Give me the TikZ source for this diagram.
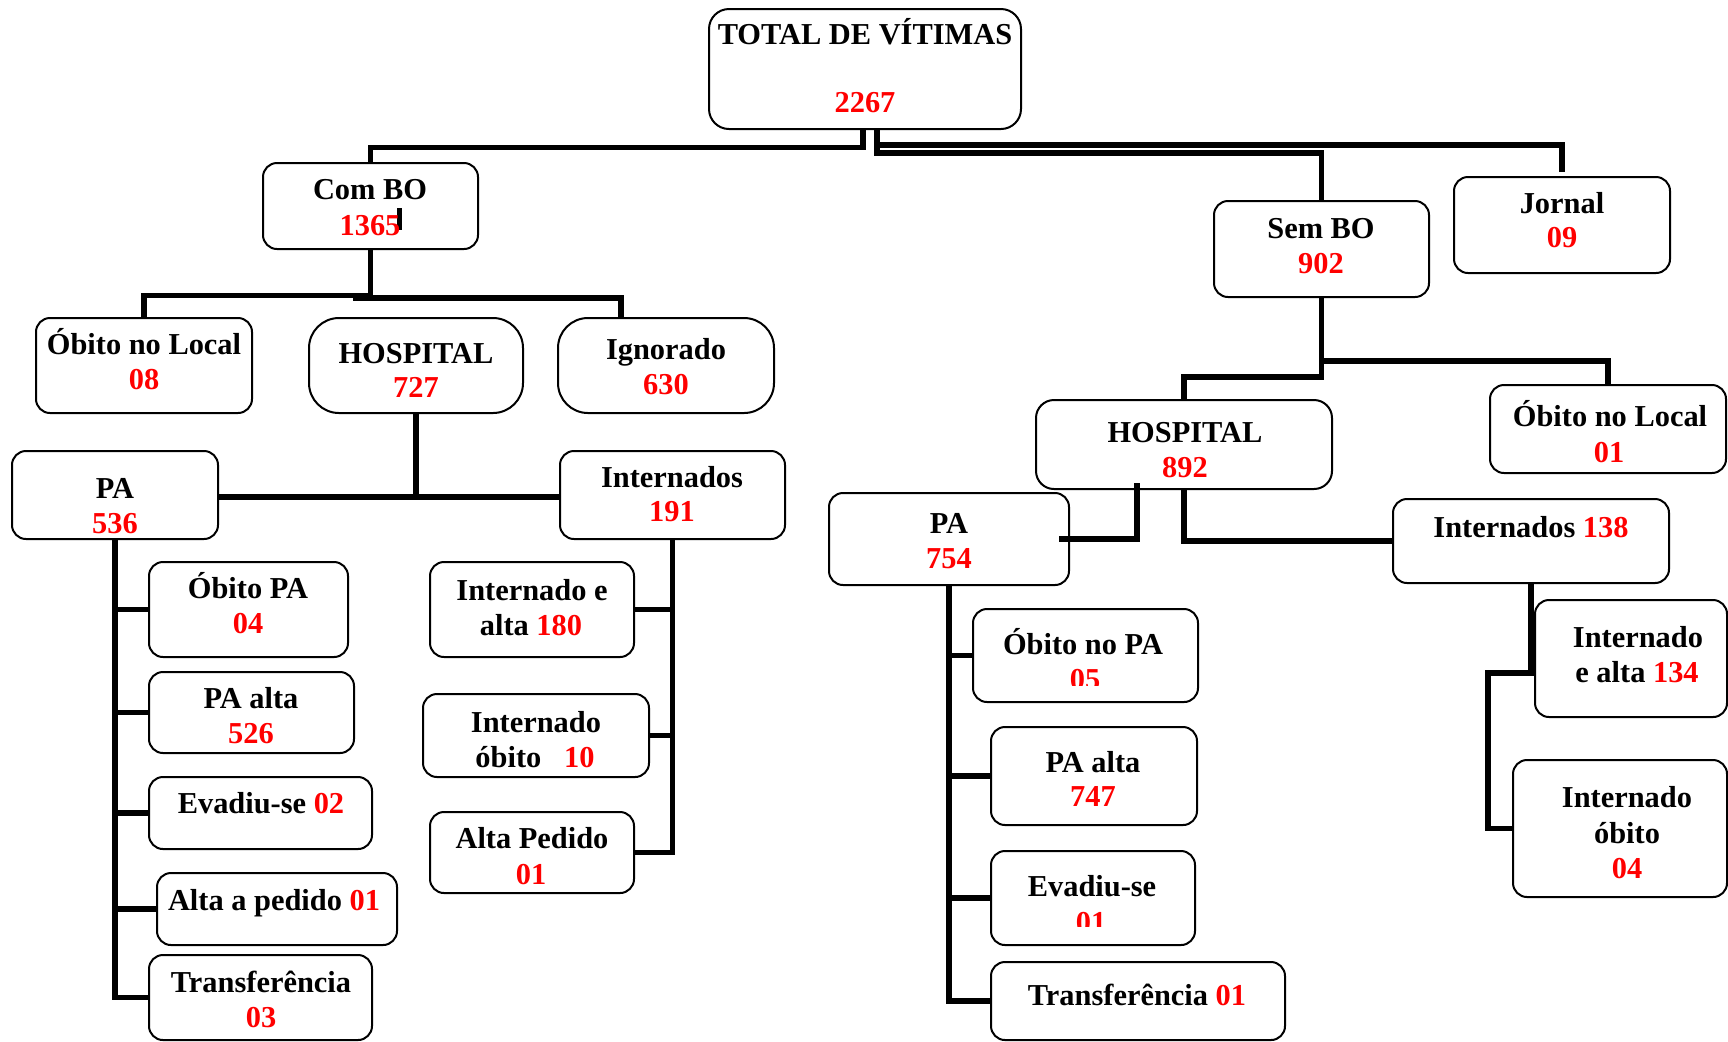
\documentclass[tikz,border=0pt]{standalone}
\usepackage{fontspec}
\setmainfont{Liberation Serif}
\usetikzlibrary{fit}
\begin{document}
\begin{tikzpicture}[x=0.5pt,y=-0.5pt,
  bx/.style={draw, line width=1pt, inner sep=0pt, rounded corners=7pt},
  bigr/.style={rounded corners=15pt},
  conn/.style={line width=2.8pt},
  lbl/.style={anchor=base, inner sep=0pt, font=\fontsize{15.2pt}{17.75pt}\selectfont\bfseries},
  num/.style={lbl, text=red}]
\useasboundingbox (0,0) rectangle (1728,1041);

% ---------- boxes ----------
\node[bx, rounded corners=10pt, fit={(709,9) (1021,129)}] (tot) {};
\node[bx, fit={(263,163) (478,249)}] (combo) {};
\node[bx, fit={(1214,201) (1429,297)}] (sembo) {};
\node[bx, fit={(1454,177) (1670,273)}] (jornal) {};
\node[bx, fit={(36,318) (252,413)}] (obl1) {};
\node[bx, bigr, fit={(309,318) (523,413)}] (hosp1) {};
\node[bx, bigr, fit={(558,318) (774,413)}] (ign) {};
\node[bx, fit={(12,451) (218,539)}] (pa1) {};
\node[bx, fit={(560,451) (785,539)}] (int1) {};
\node[bx, fit={(149,562) (348,657)}] (obpa1) {};
\node[bx, fit={(149,672) (354,753)}] (paalta1) {};
\node[bx, fit={(149,777) (372,849)}] (evad1) {};
\node[bx, fit={(157,873) (397,945)}] (altap1) {};
\node[bx, fit={(149,955) (372,1040)}] (transf1) {};
\node[bx, fit={(430,562) (634,657)}] (intalta1) {};
\node[bx, fit={(423,694) (649,777)}] (intob1) {};
\node[bx, fit={(430,812) (634,893)}] (altaped1) {};
\node[bx, rounded corners=9pt, fit={(1036,400) (1332,489)}] (hosp2) {};
\node[bx, fit={(1490,385) (1726,473)}] (obl2) {};
\node[bx, fit={(829,493) (1069,585)}] (pa2) {};
\node[bx, fit={(1393,499) (1669,583)}] (int2) {};
\node[bx, fit={(973,609) (1198,702)}] (obpa2) {};
\node[bx, fit={(991,727) (1197,825)}] (paalta2) {};
\node[bx, fit={(991,851) (1195,945)}] (evad2) {};
\node[bx, fit={(991,962) (1285,1040)}] (transf2) {};
\node[bx, fit={(1535,600) (1727,717)}] (intalta2) {};
\node[bx, fit={(1513,760) (1727,897)}] (intob2) {};

% ---------- connectors ----------
\draw[conn] ([xshift=-1pt]tot.south) -- ++(0,17.5) -| (combo.north);
\draw[conn] ([xshift=6pt]tot.south) -- ++(0,15) -| ([yshift=2pt]jornal.north);
\draw[conn] ([xshift=6pt]tot.south) -- ++(0,23) -| (sembo.north);

\coordinate (e1) at (353,298);
\draw[conn] (combo.south) -- ++(0,45.5) -| (obl1.north);
\draw[conn] (e1) -| ([xshift=-22.5pt]ign.north);

\coordinate (h1) at (416,497);
\draw[conn] (hosp1.south) -- (h1);
\draw[conn] ([yshift=-1pt]pa1.east) -- ([yshift=-1pt]int1.west);

\draw[conn] (pa1.south) |- (transf1.west);
\draw[conn] (obpa1.west) -- (obpa1.west -| pa1.south);
\draw[conn] (paalta1.west) -- (paalta1.west -| pa1.south);
\draw[conn] (evad1.west) -- (evad1.west -| pa1.south);
\draw[conn] (altap1.west) -- (altap1.west -| pa1.south);

\draw[conn] (int1.south) |- (altaped1.east);
\draw[conn] (intalta1.east) -- (intalta1.east -| int1.south);
\draw[conn] (intob1.east) -- (intob1.east -| int1.south);

\draw[conn] (sembo.south) -- ++(0,79) -| (hosp2.north);
\draw[conn] (sembo.south) -- ++(0,63) -| (obl2.north);

\draw[conn] ([xshift=-23.5pt,yshift=3.5pt]hosp2.south) |- ([xshift=-5.5pt]pa2.east);
\draw[conn] (hosp2.south) |- (int2.west);

\draw[conn] (pa2.south) |- (transf2.west);
\draw[conn] (obpa2.west) -- (obpa2.west -| pa2.south);
\draw[conn] (paalta2.west) -- (paalta2.west -| pa2.south);
\draw[conn] (evad2.west) -- (evad2.west -| pa2.south);

\draw[conn] (int2.south) -- ++(0,89) -- ++(-43,0) |- (intob2.west);

% stray mark beside 1365
\fill (397,208) rectangle (402,230);

% ---------- texts ----------
\node[lbl] (a1) at (865,44) {TOTAL DE VÍTIMAS};
\node[num] (a2) at (865,112) {2267};
\node[lbl] (b1) at (370,199) {Com BO};
\node[num] (b2) at (370,235) {1365};
\node[lbl] (c1) at (1321,238) {Sem BO};
\node[num] (c2) at (1321,273) {902};
\node[lbl] (d1) at (1562,213) {Jornal};
\node[num] (d2) at (1562,247) {09};
\node[lbl] (e2) at (144,354) {Óbito no Local};
\node[num] (e3) at (144,389) {08};
\node[lbl] (f1) at (416,363) {HOSPITAL};
\node[num] (f2) at (416,397) {727};
\node[lbl] (g1) at (666,359) {Ignorado};
\node[num] (g2) at (666,394) {630};
\node[lbl] (i1) at (115,498) {PA};
\node[num] (i2) at (115,533) {536};
\node[lbl] (j1) at (672,487) {Internados};
\node[num] (j2) at (672,521) {191};
\node[lbl] (k1) at (248,598) {Óbito PA};
\node[num] (k2) at (248,633) {04};
\node[lbl] (l1) at (251,708) {PA alta};
\node[num] (l2) at (251,743) {526};
\node[lbl] (m1) at (261,813) {Evadiu-se \textcolor{red}{02}};
\node[lbl] (n1) at (274,910) {Alta a pedido \textcolor{red}{01}};
\node[lbl] (o1) at (261,992) {Transferência};
\node[num] (o2) at (261,1027) {03};
\node[lbl] (p1) at (532,600) {Internado e};
\node[lbl] (p2) at (531,635) {alta \textcolor{red}{180}};
\node[lbl] (q1) at (536,732) {Internado};
\node[lbl] (q2) at (535,767) {óbito\ \ \ \textcolor{red}{10}};
\node[lbl] (r1) at (532,848) {Alta Pedido};
\node[num] (r2) at (531,884) {01};
\node[lbl] (s1) at (1185,442) {HOSPITAL};
\node[num] (s2) at (1185,477) {892};
\node[lbl] (u1) at (1610,426) {Óbito no Local};
\node[num] (u2) at (1609,462) {01};
\node[lbl] (v1) at (949,533) {PA};
\node[num] (v2) at (949,568) {754};
\node[lbl] (w1) at (1531,537) {Internados \textcolor{red}{138}};
\node[lbl] (x1) at (1083,654) {Óbito no PA};
\begin{scope}
\clip (1000,640) rectangle (1170,685);
\node[num] (x2) at (1085,689) {05};
\end{scope}
\node[lbl] (y1) at (1093,772) {PA alta};
\node[num] (y2) at (1093,806) {747};
\node[lbl] (z1) at (1092,896) {Evadiu-se};
\begin{scope}
\clip (1000,880) rectangle (1170,926);
\node[num] (z2) at (1091,932) {01};
\end{scope}
\node[lbl] (aa1) at (1137,1005) {Transferência \textcolor{red}{01}};
\node[lbl] (bb1) at (1638,647) {Internado};
\node[lbl] (bb2) at (1637,682) {e alta \textcolor{red}{134}};
\node[lbl] (cc1) at (1627,807) {Internado};
\node[lbl] (cc2) at (1627,843) {óbito};
\node[num] (cc3) at (1627,878) {04};
\end{tikzpicture}
\end{document}
